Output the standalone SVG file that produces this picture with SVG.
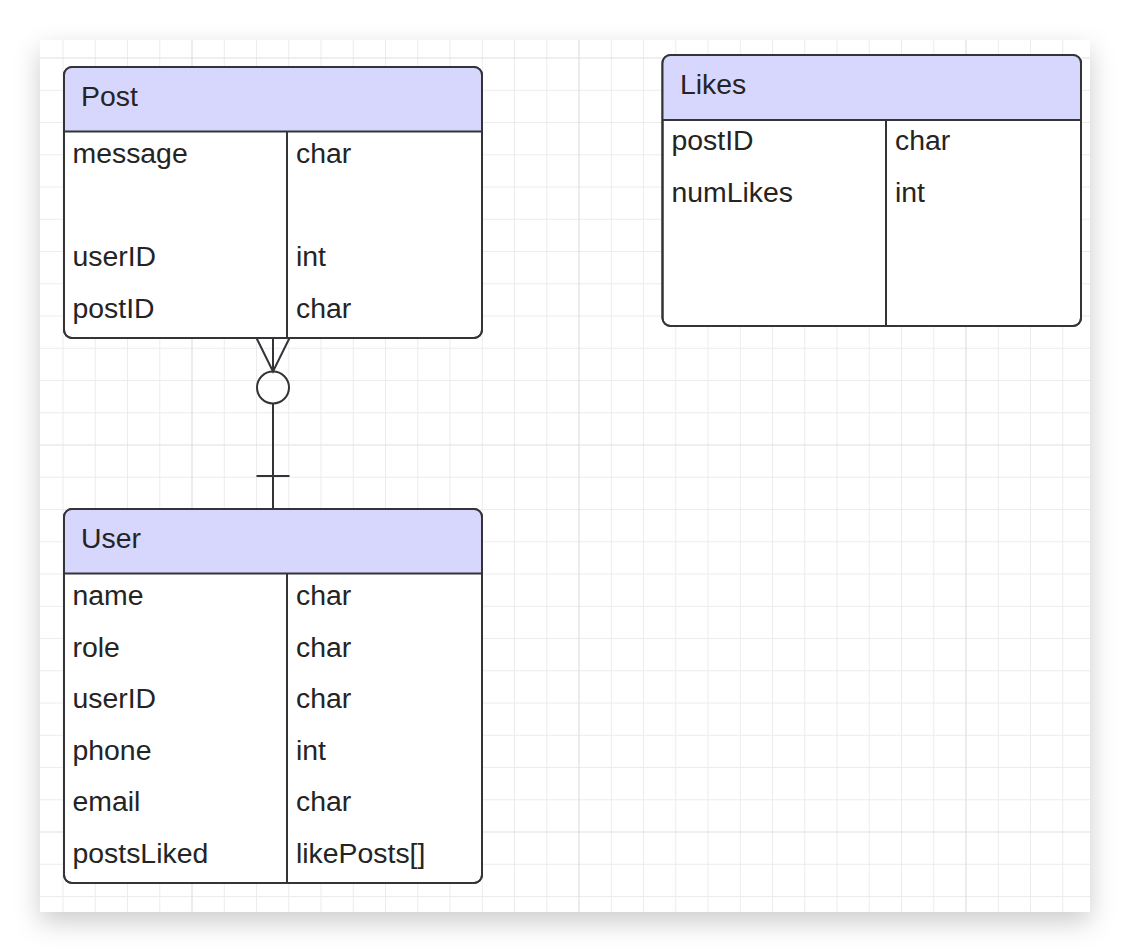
<svg xmlns="http://www.w3.org/2000/svg" width="1130" height="952" viewBox="0 0 1130 952">
<defs>
<filter id="sh" x="-10%" y="-10%" width="120%" height="130%">
<feDropShadow dx="0" dy="10" stdDeviation="13" flood-color="#000" flood-opacity="0.2"/>
</filter>
<style>
.minor{stroke:#ececec;stroke-width:1;fill:none}
.major{stroke:#dfdfdf;stroke-width:1.2;fill:none}
.box{fill:#fff;stroke:#333338;stroke-width:2}
.hdr{fill:#d7d7fd}
.ln{stroke:#333338;stroke-width:2;fill:none}
text{font-family:"Liberation Sans",Arial,sans-serif;font-size:28.4px;fill:#242424}
.conn{stroke:#333338;stroke-width:2;fill:none}
</style>
</defs>
<rect width="1130" height="952" fill="#fff"/>
<rect x="40" y="40" width="1050" height="872" fill="#fff" filter="url(#sh)"/>
<g id="grid">
<path class="minor" d="M63 40V912M95.25 40V912M127.5 40V912M159.75 40V912M224.25 40V912M256.5 40V912M288.75 40V912M321 40V912M353.25 40V912M385.5 40V912M417.75 40V912M450 40V912M482.25 40V912M514.5 40V912M546.75 40V912M611.25 40V912M643.5 40V912M675.75 40V912M708 40V912M740.25 40V912M772.5 40V912M804.75 40V912M837 40V912M869.25 40V912M901.5 40V912M933.75 40V912M998.25 40V912M1030.5 40V912M1062.75 40V912
M40 90.25H1090M40 122.5H1090M40 154.75H1090M40 187H1090M40 219.25H1090M40 251.5H1090M40 283.75H1090M40 316H1090M40 348.25H1090M40 380.5H1090M40 412.75H1090M40 477.25H1090M40 509.5H1090M40 541.75H1090M40 574H1090M40 606.25H1090M40 638.5H1090M40 670.75H1090M40 703H1090M40 735.25H1090M40 767.5H1090M40 799.75H1090M40 864.25H1090M40 896.5H1090"/>
<path class="major" d="M192 40V912M579 40V912M966 40V912M40 58H1090M40 445H1090M40 832H1090"/>
</g>
<g id="connectors">
<path class="conn" d="M273 338V371.5M256.5 338L273 371.5L289.5 338M273 403.5V509M256.5 476H289.5"/>
<circle class="conn" cx="273" cy="387.5" r="16" fill="#fff"/>
</g>
<g id="post">
<rect class="box" x="64" y="67" width="418" height="271" rx="8"/>
<path class="hdr" d="M64 131.5V75A8 8 0 0 1 72 67H474A8 8 0 0 1 482 75V131.5Z"/>
<rect x="64" y="67" width="418" height="271" rx="8" fill="none" stroke="#333338" stroke-width="2"/>
<path class="ln" d="M64 131.5H482M287 131.5V338"/>
<text x="81" y="106">Post</text>
<text x="72.5" y="163">message</text><text x="296" y="163">char</text>
<text x="72.5" y="266">userID</text><text x="296" y="266">int</text>
<text x="72.5" y="317.5">postID</text><text x="296" y="317.5">char</text>
</g>
<g id="likes">
<rect class="box" x="662.5" y="55" width="418.5" height="271" rx="8"/>
<path class="hdr" d="M662.5 120V63A8 8 0 0 1 670.5 55H1073A8 8 0 0 1 1081 63V120Z"/>
<rect x="662.5" y="55" width="418.5" height="271" rx="8" fill="none" stroke="#333338" stroke-width="2"/>
<path class="ln" d="M662.5 120H1081M886 120V326"/>
<text x="680" y="93.5">Likes</text>
<text x="671.5" y="150">postID</text><text x="895" y="150">char</text>
<text x="671.5" y="202">numLikes</text><text x="895" y="202">int</text>
</g>
<g id="user">
<rect class="box" x="64" y="509" width="418" height="374" rx="8"/>
<path class="hdr" d="M64 573.5V517A8 8 0 0 1 72 509H474A8 8 0 0 1 482 517V573.5Z"/>
<rect x="64" y="509" width="418" height="374" rx="8" fill="none" stroke="#333338" stroke-width="2"/>
<path class="ln" d="M64 573.5H482M287 573.5V883"/>
<text x="81" y="548">User</text>
<text x="72.5" y="605">name</text><text x="296" y="605">char</text>
<text x="72.5" y="656.5">role</text><text x="296" y="656.5">char</text>
<text x="72.5" y="708">userID</text><text x="296" y="708">char</text>
<text x="72.5" y="759.5">phone</text><text x="296" y="759.5">int</text>
<text x="72.5" y="811">email</text><text x="296" y="811">char</text>
<text x="72.5" y="862.5">postsLiked</text><text x="296" y="862.5">likePosts[]</text>
</g>
</svg>
